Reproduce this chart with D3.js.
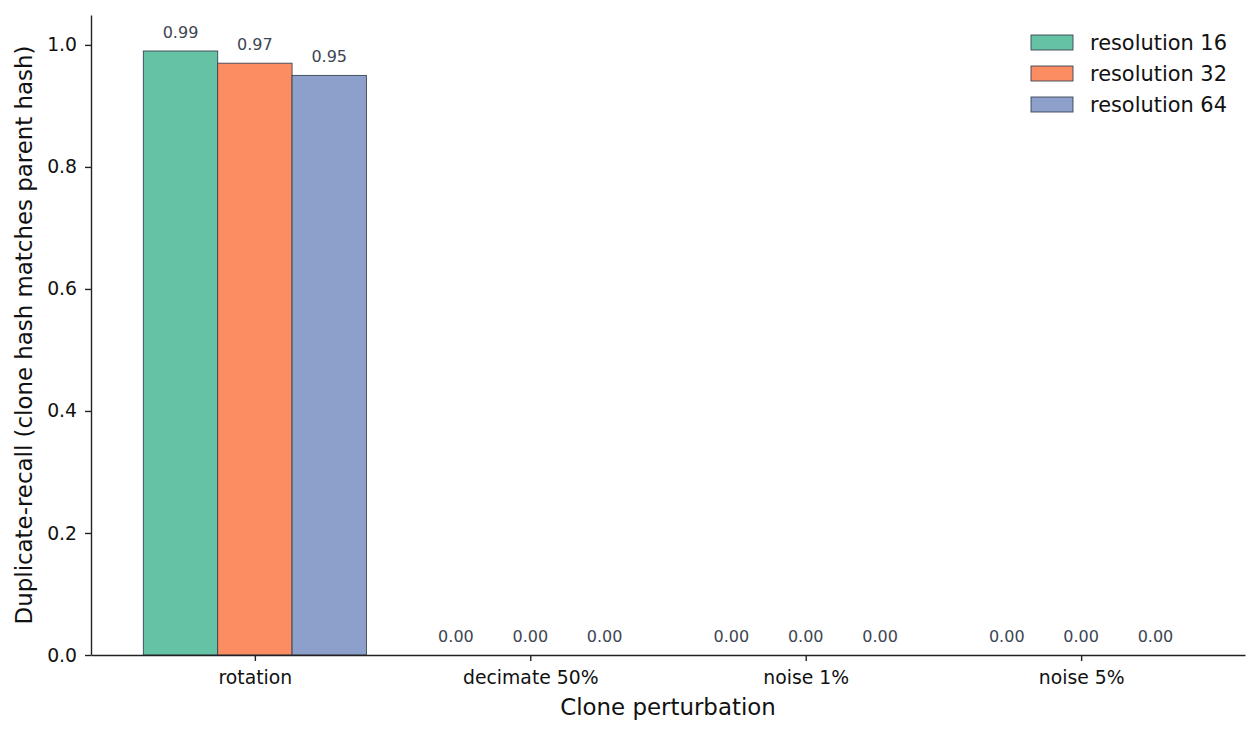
<!DOCTYPE html>
<html>
<head>
<meta charset="utf-8">
<script src="https://cdn.jsdelivr.net/npm/d3@7"></script>
<style>
  body { margin: 0; background: #fff; }
  svg { font-family: "DejaVu Sans", sans-serif; }
</style>
</head>
<body>
<div id="chart"></div>
<script>
const categories = ['rotation', 'decimate 50%', 'noise 1%', 'noise 5%'];
const seriesNames = ['resolution 16', 'resolution 32', 'resolution 64'];
const res16 = [0.99, 0.00, 0.00, 0.00];
const res32 = [0.97, 0.00, 0.00, 0.00];
const res64 = [0.95, 0.00, 0.00, 0.00];
const yTicks = [0, 0.2, 0.4, 0.6, 0.8, 1.0];

const series = [res16, res32, res64];
const colors = ['#66c2a5', '#fc8d62', '#8da0cb'];
const edge = '#3b4454';

const width = 1260;
const height = 735;
const margin = { top: 15, right: 15, bottom: 80, left: 91 };
const plotRight = width - margin.right;
const plotBottom = height - margin.bottom;

const barW = 0.27;

const xScale = d3.scaleLinear()
    .domain([-0.595, categories.length - 1 + 0.595])
    .range([margin.left, plotRight]);

const yScale = d3.scaleLinear()
    .domain([0, 1.049])
    .range([plotBottom, margin.top]);

const svg = d3.select('#chart').append('svg')
    .attr('width', width)
    .attr('height', height);

// bars
series.forEach((vals, s) => {
  const off = (s - 1) * barW;
  const g = svg.append('g').attr('class', 'series');
  g.selectAll('rect')
    .data(vals)
    .enter().append('rect')
      .attr('x', (d, i) => xScale(i + off - barW / 2))
      .attr('y', d => yScale(d))
      .attr('width', xScale(barW) - xScale(0))
      .attr('height', d => yScale(0) - yScale(d))
      .attr('fill', colors[s])
      .attr('stroke', d => (d > 0 ? edge : 'none'))
      .attr('stroke-width', 0.9);

  g.selectAll('text')
    .data(vals)
    .enter().append('text')
      .attr('x', (d, i) => xScale(i + off))
      .attr('y', d => yScale(d) - 13)
      .attr('text-anchor', 'middle')
      .attr('font-size', '16px')
      .attr('fill', '#3d4653')
      .text(d => d.toFixed(2));
});

// axes
const xAxis = d3.axisBottom(xScale)
    .tickValues(d3.range(categories.length))
    .tickFormat(i => categories[i])
    .tickSize(6)
    .tickPadding(10)
    .tickSizeOuter(0);

const yAxis = d3.axisLeft(yScale)
    .tickValues(yTicks)
    .tickFormat(d3.format('.1f'))
    .tickSize(6)
    .tickPadding(8)
    .tickSizeOuter(0);

const gx = svg.append('g')
    .attr('transform', `translate(0, ${plotBottom})`)
    .call(xAxis);

const gy = svg.append('g')
    .attr('transform', `translate(${margin.left}, 0)`)
    .call(yAxis);

[gx, gy].forEach((g) => {
  g.select('.domain').attr('stroke', '#222').attr('stroke-width', 1.4);
  g.selectAll('.tick line').attr('stroke', '#222').attr('stroke-width', 1.4);
  g.selectAll('.tick text')
    .attr('font-family', '"DejaVu Sans", sans-serif')
    .attr('font-size', '18.8px')
    .attr('fill', '#111');
});

// axis titles
svg.append('text')
    .attr('x', (margin.left + plotRight) / 2)
    .attr('y', 715)
    .attr('text-anchor', 'middle')
    .attr('font-size', '22.9px')
    .attr('fill', '#111')
    .text('Clone perturbation');

svg.append('text')
    .attr('transform', `translate(32, ${(margin.top + plotBottom) / 2}) rotate(-90)`)
    .attr('text-anchor', 'middle')
    .attr('font-size', '22.9px')
    .attr('fill', '#111')
    .text('Duplicate-recall (clone hash matches parent hash)');

// legend
const legend = svg.append('g')
    .attr('transform', 'translate(1031, 35)');

const item = legend.selectAll('g')
    .data(seriesNames)
    .enter().append('g')
      .attr('transform', (d, i) => `translate(0, ${i * 31})`);

item.append('rect')
    .attr('width', 42)
    .attr('height', 15)
    .attr('fill', (d, i) => colors[i])
    .attr('stroke', edge)
    .attr('stroke-width', 0.9);

item.append('text')
    .attr('x', 59)
    .attr('y', 7.5)
    .attr('dy', '0.35em')
    .attr('font-size', '20.9px')
    .attr('fill', '#111')
    .text(d => d);
</script>
</body>
</html>
